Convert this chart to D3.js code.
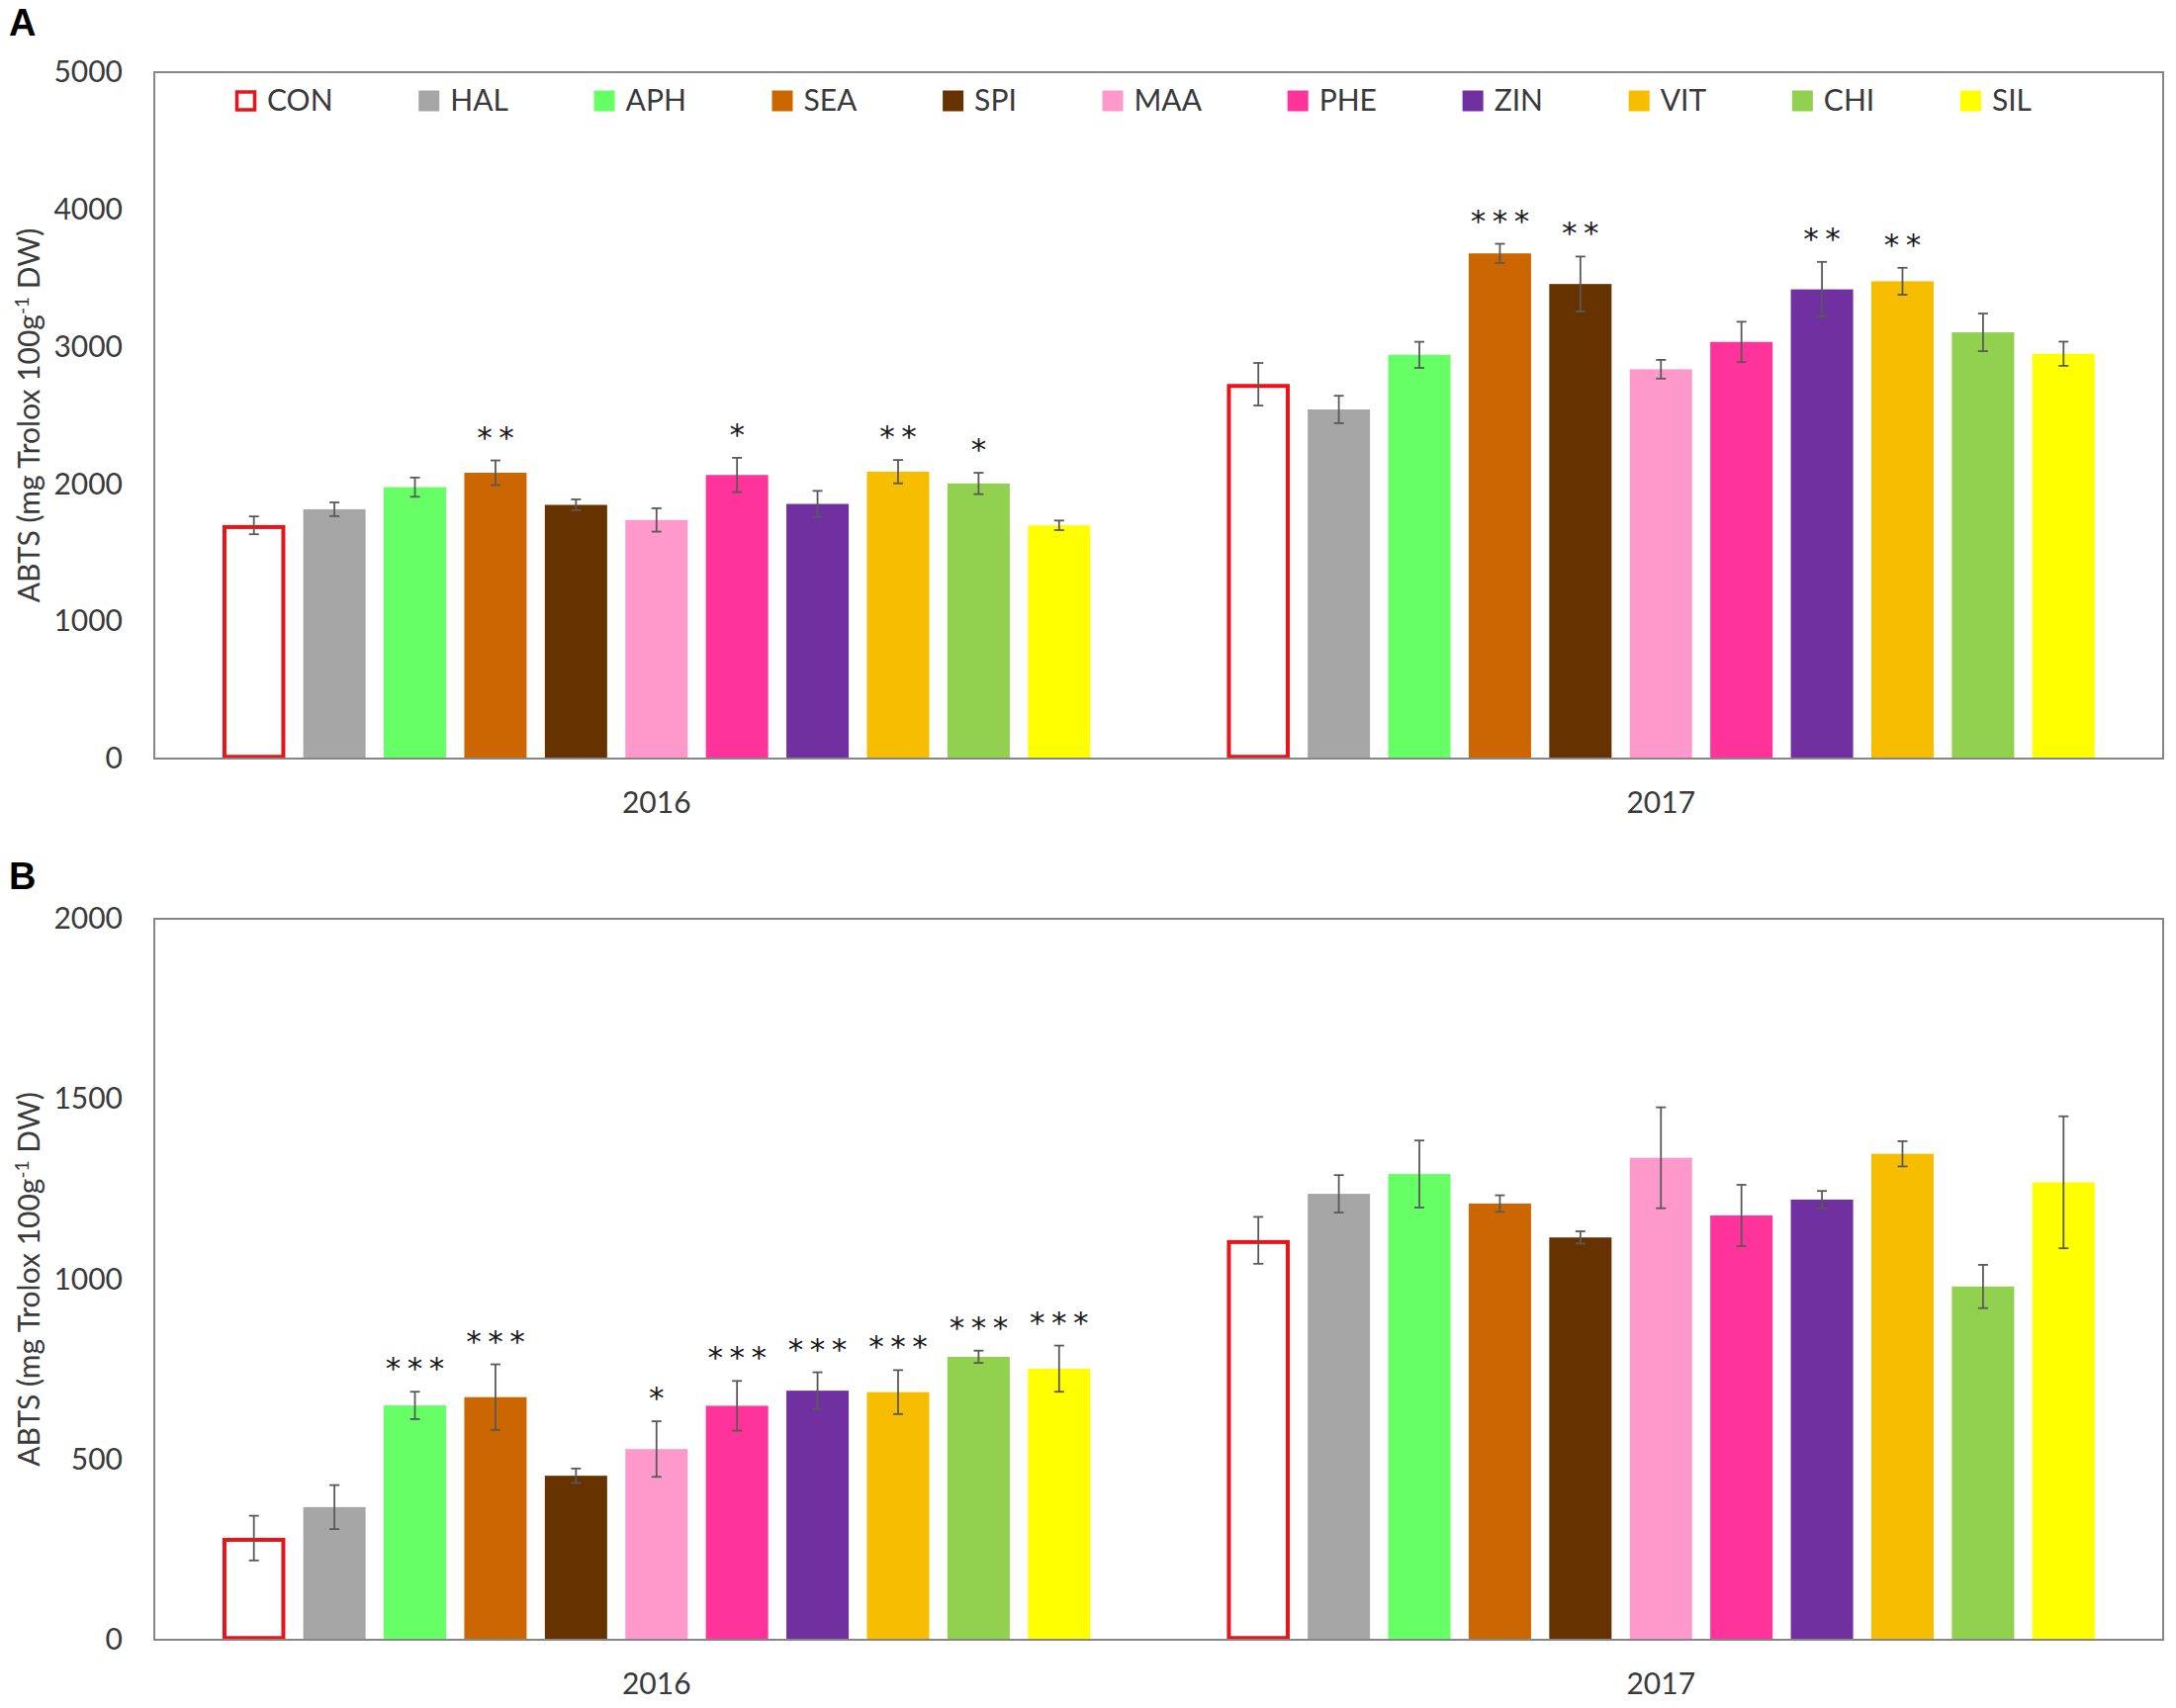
<!DOCTYPE html>
<html><head><meta charset="utf-8">
<script src="https://cdn.jsdelivr.net/npm/d3@7/dist/d3.min.js"></script>
<style>body{margin:0;background:#fff} svg{display:block}</style>
</head><body>
<svg id="c" width="2200" height="1727"></svg>
<script>
const categories = ["2016", "2017"];
const series = ["CON","HAL","APH","SEA","SPI","MAA","PHE","ZIN","VIT","CHI","SIL"];
const seriesColors = ["#ffffff","#a6a6a6","#66ff66","#cc6600","#663300","#ff99cc","#ff3399","#7030a0","#f7bd00","#92d050","#ffff00"];

// Panel A values
const a2016 = [1699,1816,1977,2082,1848,1738,2066,1855,2090,2004,1699];
const a2016Err = [65,50,70,90,40,85,125,95,85,78,35];
const a2016Stars = ["","","","**","","","*","","**","*",""];
const a2017 = [2727,2543,2941,3680,3457,2836,3035,3418,3477,3105,2949];
const a2017Err = [155,100,95,70,200,68,147,200,98,137,88];
const a2017Stars = ["","","","***","**","","","**","**","",""];
const aTicks = [0,1000,2000,3000,4000,5000];

// Panel B values
const b2016 = [282,368,650,673,455,529,649,691,687,785,752];
const b2016Err = [62,61,38,91,20,77,69,51,61,17,64];
const b2016Stars = ["","","***","***","","*","***","***","***","***","***"];
const b2017 = [1108,1237,1292,1210,1116,1337,1177,1221,1348,980,1269];
const b2017Err = [65,52,93,23,17,140,85,24,35,60,183];
const b2017Stars = ["","","","","","","","","","",""];
const bTicks = [0,500,1000,1500,2000];

const svg = d3.select("#c");
const FONT = "Lato, 'Open Sans', sans-serif";
const TXT = "#3a3a3a";
const FS = 30;
const left = 156, right = 2187;

function drawPanel(p) {
  const g = svg.append("g");
  const y = d3.scaleLinear().domain([0, p.max]).range([p.bottom, p.top]);
  const xYear = d3.scaleBand().domain(categories).range([left, right]).padding(0);
  const xSer = d3.scaleBand().domain(series).range([0, xYear.bandwidth()]).paddingInner(0.226).paddingOuter(0.85);

  // y tick labels
  const yAxis = d3.axisLeft(y).tickValues(p.ticks).tickSize(0).tickPadding(32).tickFormat(d3.format("d"));
  const ya = g.append("g").attr("transform", `translate(${left},0)`).call(yAxis);
  ya.select(".domain").remove();
  ya.selectAll("text").attr("font-family", FONT).attr("font-size", FS).attr("fill", TXT);

  // x labels
  const xAxis = d3.axisBottom(xYear).tickSize(0).tickPadding(34);
  const xa = g.append("g").attr("transform", `translate(0,${p.bottom})`).call(xAxis);
  xa.select(".domain").remove();
  xa.selectAll("text").attr("font-family", FONT).attr("font-size", FS).attr("fill", TXT);

  const rows = [];
  p.data.forEach((vals, ci) => {
    vals.forEach((v, si) => rows.push({cat: categories[ci], ser: series[si], si, v, e: p.err[ci][si], s: p.stars[ci][si]}));
  });

  const bx = d => xYear(d.cat) + xSer(d.ser);
  g.selectAll("rect.bar").data(rows).join("rect").attr("class","bar")
    .attr("x", d => d.si === 0 ? bx(d) + 1.75 : bx(d))
    .attr("width", d => d.si === 0 ? xSer.bandwidth() - 3.5 : xSer.bandwidth())
    .attr("y", d => d.si === 0 ? y(d.v) + 1.75 : y(d.v))
    .attr("height", d => d.si === 0 ? y(0) - y(d.v) - 3.5 : y(0) - y(d.v))
    .attr("fill", d => seriesColors[d.si])
    .attr("stroke", d => d.si === 0 ? "#e8141a" : "none")
    .attr("stroke-width", 4);

  // error bars
  const eb = g.selectAll("g.err").data(rows).join("g").attr("class","err")
    .attr("stroke", "#595959").attr("stroke-width", 1.8);
  const cx = d => bx(d) + xSer.bandwidth() / 2;
  eb.append("line").attr("x1", cx).attr("x2", cx).attr("y1", d => y(d.v + d.e)).attr("y2", d => y(d.v - d.e));
  eb.append("line").attr("x1", d => cx(d) - 5).attr("x2", d => cx(d) + 5).attr("y1", d => y(d.v + d.e)).attr("y2", d => y(d.v + d.e));
  eb.append("line").attr("x1", d => cx(d) - 5).attr("x2", d => cx(d) + 5).attr("y1", d => y(d.v - d.e)).attr("y2", d => y(d.v - d.e));

  // stars
  rows.filter(d => d.s).forEach(d => {
    const n = d.s.length;
    for (let i = 0; i < n; i++) {
      g.append("text").attr("x", cx(d) + (i - (n - 1) / 2) * 22).attr("y", y(d.v + d.e) - 13)
        .attr("text-anchor", "middle").attr("font-family", "'DejaVu Sans', sans-serif").attr("font-size", 31).attr("fill", "#1a1a1a").text("*");
    }
  });

  // frame
  g.append("rect").attr("x", left).attr("y", p.top).attr("width", right - left).attr("height", p.bottom - p.top)
    .attr("fill", "none").attr("stroke", "#868686").attr("stroke-width", 2);

  // y title
  const cy = (p.top + p.bottom) / 2;
  const t = g.append("text").attr("transform", `translate(40,${cy}) rotate(-90)`)
    .attr("text-anchor", "middle").attr("font-family", FONT).attr("font-size", FS).attr("fill", TXT);
  t.append("tspan").text("ABTS (mg Trolox 100g");
  t.append("tspan").attr("dy", -11).attr("font-size", 19).text("-1");
  t.append("tspan").attr("dy", 11).text(" DW)");

  // panel letter
  svg.append("text").attr("x", 9).attr("y", p.letterY).attr("font-family", "'Liberation Sans', Arial, sans-serif")
    .attr("font-weight", "bold").attr("font-size", 38).attr("fill", "#000").text(p.letter);
}

drawPanel({top: 73, bottom: 767, max: 5000, ticks: aTicks, data: [a2016, a2017], err: [a2016Err, a2017Err], stars: [a2016Stars, a2017Stars], letter: "A", letterY: 36});
drawPanel({top: 929, bottom: 1658, max: 2000, ticks: bTicks, data: [b2016, b2017], err: [b2016Err, b2017Err], stars: [b2016Stars, b2017Stars], letter: "B", letterY: 899});

// legend (panel A)
const lg = svg.append("g");
const legY = 102, box = 21, gap = 11, startX = 238, endX = 2054;
const items = series.map((s, i) => {
  const it = lg.append("g");
  it.append("rect").attr("y", legY - box / 2).attr("width", i === 0 ? box - 3 : box).attr("height", i === 0 ? box - 3 : box)
    .attr("x", i === 0 ? 1.5 : 0).attr("transform", i === 0 ? "translate(0,1.5)" : null)
    .attr("fill", seriesColors[i]).attr("stroke", i === 0 ? "#e8141a" : "none").attr("stroke-width", 3.5);
  const tx = it.append("text").attr("x", box + gap).attr("y", legY + 10).attr("font-family", FONT).attr("font-size", FS).attr("fill", TXT).text(s);
  return {it, w: box + gap + tx.node().getComputedTextLength()};
});
const totalW = d3.sum(items, d => d.w);
const spacing = (endX - startX - totalW) / (items.length - 1);
let xx = startX;
items.forEach(d => { d.it.attr("transform", `translate(${xx},0)`); xx += d.w + spacing; });
</script></body></html>
